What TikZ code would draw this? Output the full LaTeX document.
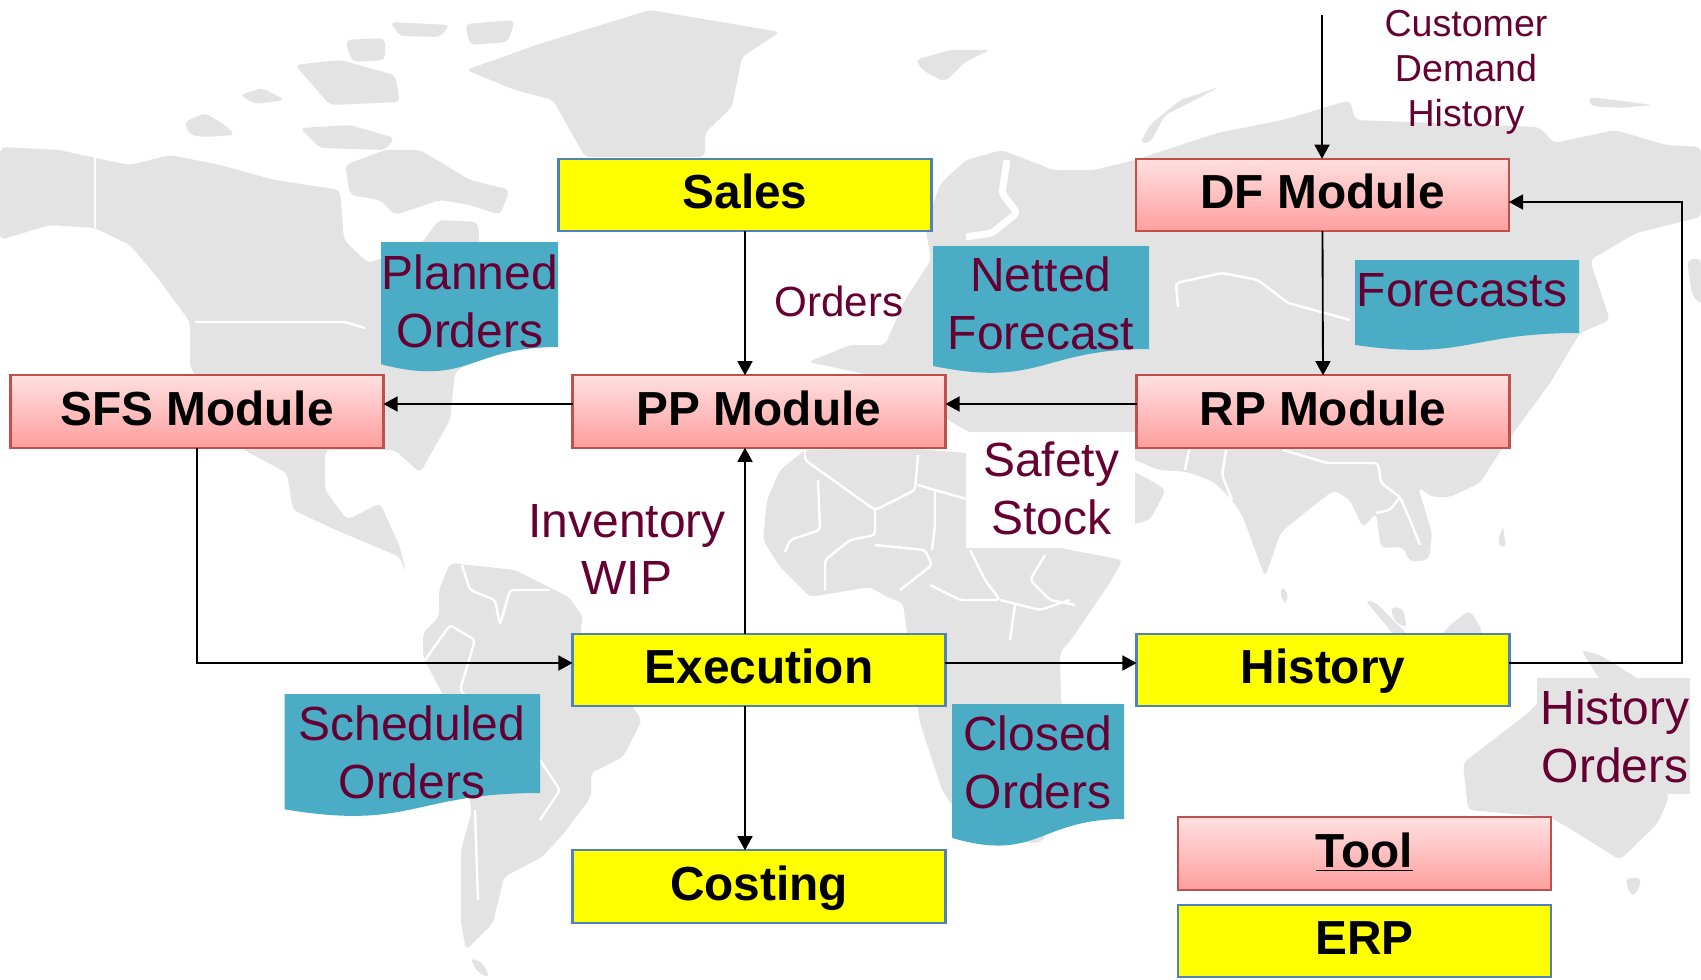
\documentclass[tikz,border=0pt]{standalone}
\usepackage{fontspec}
\setmainfont{Liberation Sans}
\usetikzlibrary{arrows.meta}

\definecolor{labelred}{HTML}{660033}
\definecolor{notefill}{HTML}{4BACC6}
\definecolor{mapgray}{HTML}{E3E3E3}
\definecolor{erpline}{HTML}{4F81BD}
\definecolor{erpfill}{HTML}{FFFF00}
\definecolor{toolline}{HTML}{C0504D}
\definecolor{tooltop}{HTML}{FFE0E0}
\definecolor{toolbottom}{HTML}{FF9E9E}

\tikzset{
	x=0.02cm, y=-0.02cm,
	>={Triangle[length=8pt,width=8.5pt]},
	flowline/.style={line width=1.05pt},
	land/.style={fill=mapgray, rounded corners=3pt},
	border/.style={draw=white, line width=1.4pt, line join=round, rounded corners=2pt},
	erpbox/.style={draw=erpline, line width=1.25pt, fill=erpfill, minimum width=7.46cm, minimum height=1.45cm,
		inner sep=0pt, outer sep=0pt, font=\fontsize{27.2}{30}\selectfont\bfseries, text height=20pt, text depth=4.2pt},
	toolbox/.style={erpbox, draw=toolline, top color=tooltop, bottom color=toolbottom},
	notelabel/.style={text=labelred, align=center, inner sep=0pt, font=\fontsize{27.3}{33}\selectfont},
	smalllabel/.style={notelabel, font=\fontsize{21.4}{25.6}\selectfont}
}

% flowchart document: left, top, right, bottom of the right edge
\newcommand{\docnote}[4]{
	\fill[notefill] (#1,#2) -- (#3,#2) -- (#3,#4)
		.. controls ({(#1+#3)/2},#4) and ({(#1+#3)/2},{#2+(#4-#2)*1.381}) .. (#1,{#2+(#4-#2)*1.1645}) -- cycle;
}

\begin{document}
\begin{tikzpicture}
	\useasboundingbox (0,0) rectangle (1701,980);

	% World map
	\fill[land] (0,147) -- (60,150) -- (95,158) -- (130,165) -- (170,155) -- (220,165) -- (275,180) -- (340,190)
		-- (344,240) -- (368,263) -- (420,245) -- (439,220) -- (478,222) -- (480,250) -- (530,290) -- (558,320)
		-- (500,345) -- (455,372) -- (450,420) -- (420,473) -- (395,450) -- (325,450) -- (325,490) -- (347,520)
		-- (380,503) -- (400,547) -- (406,573) -- (400,557) -- (336,530) -- (293,510) -- (287,473) -- (244,450)
		-- (190,367) -- (190,322) -- (157,277) -- (130,245) -- (95,228) -- (50,225) -- (0,240) -- cycle;
	\fill[land] (184,122) -- (205,113) -- (225,125) -- (235,135) -- (205,137) -- (190,135) -- cycle;
	\fill[land] (240,95) -- (262,88) -- (285,100) -- (255,104) -- cycle;
	\fill[land] (300,128) -- (350,125) -- (395,138) -- (385,150) -- (320,148) -- cycle;
	\fill[land] (295,65) -- (340,60) -- (395,75) -- (400,102) -- (330,105) -- cycle;
	\fill[land] (345,40) -- (385,38) -- (385,60) -- (352,62) -- cycle;
	\fill[land] (390,22) -- (450,25) -- (440,37) -- (400,36) -- cycle;
	\fill[land] (465,24) -- (515,20) -- (508,42) -- (470,45) -- cycle;
	\fill[land] (345,165) -- (385,150) -- (420,150) -- (470,180) -- (510,190) -- (500,215) -- (470,205)
		-- (440,200) -- (395,215) -- (380,200) -- (350,195) -- cycle;
	% Greenland
	\fill[land] (466,70) -- (542,43) -- (650,10) -- (780,32) -- (742,57) -- (732,107) -- (705,133) -- (705,157)
		-- (585,157) -- (553,100) -- (515,90) -- cycle;
	% South America
	\fill[land] (450,563) -- (515,570) -- (569,597) -- (583,617) -- (580,633) -- (642,720) -- (623,757)
		-- (591,773) -- (591,797) -- (564,833) -- (542,857) -- (504,877) -- (493,923) -- (466,950) -- (461,923)
		-- (461,850) -- (472,810) -- (444,697) -- (423,657) -- (423,633) -- (439,617) -- (439,590) -- cycle;
	\fill[land] (470,958) -- (482,962) -- (490,978) -- (477,972) -- cycle;
	% Africa
	\fill[land] (805,450) -- (903,448) -- (967,453) -- (1000,470) -- (1030,520) -- (1060,548) -- (1123,560)
		-- (1107,587) -- (1073,637) -- (1060,653) -- (1061,703) -- (1100,760) -- (1040,843) -- (975,840)
		-- (942,790) -- (920,723) -- (907,633) -- (903,603) -- (887,597) -- (870,587) -- (810,597) -- (780,567)
		-- (763,540) -- (767,500) -- (780,470) -- cycle;
	% Eurasia
	\fill[land] (808,362) -- (850,345) -- (885,345) -- (905,300) -- (931,260) -- (925,225) -- (941,183) -- (966,160)
		-- (1002,150) -- (1053,170) -- (1094,170) -- (1135,160) -- (1217,133) -- (1283,120) -- (1350,100) -- (1355,120)
		-- (1436,123) -- (1539,127) -- (1554,143) -- (1615,130) -- (1666,145) -- (1701,147) -- (1701,217) -- (1636,233)
		-- (1590,260) -- (1610,320) -- (1580,333) -- (1550,383) -- (1501,450) -- (1480,483) -- (1450,497) -- (1432,497)
		-- (1418,487) -- (1432,533) -- (1429,560) -- (1410,562) -- (1403,547) -- (1381,548) -- (1376,513) -- (1363,528)
		-- (1350,500) -- (1334,490) -- (1312,507) -- (1281,532) -- (1265,577) -- (1243,517) -- (1232,500) -- (1214,482)
		-- (1188,472) -- (1159,470) -- (1135,460) -- (1000,450) -- (870,375) -- cycle;
	\fill[land] (1130,470) -- (1150,480) -- (1166,490) -- (1150,520) -- (1130,525) -- cycle;
	\fill[land] (1687,260) -- (1701,258) -- (1701,305) -- (1692,295) -- cycle;
	\fill[land] (915,60) -- (950,50) -- (990,50) -- (965,62) -- (945,82) -- (925,72) -- cycle;
	\fill[land] (1219,87) -- (1180,100) -- (1150,125) -- (1140,143) -- (1150,143) -- (1165,115) -- (1195,100) -- cycle;
	\fill[land] (1588,97) -- (1615,100) -- (1653,105) -- (1620,108) -- (1590,106) -- cycle;
	% Islands of Asia
	\fill[land] (1365,600) -- (1375,602) -- (1408,635) -- (1395,636) -- cycle;
	\fill[land] (1390,607) -- (1403,608) -- (1407,628) -- (1395,622) -- cycle;
	\fill[land] (1437,640) -- (1450,625) -- (1470,610) -- (1482,630) -- (1478,650) -- (1440,650) -- cycle;
	\fill[land] (1503,525) -- (1506,548) -- (1497,545) -- cycle;
	\fill[land] (1581,650) -- (1600,655) -- (1640,680) -- (1645,690) -- (1600,680) -- cycle;
	\fill[land] (1280,587) -- (1287,590) -- (1288,602) -- (1282,602) -- cycle;
	% Australia
	\fill[land] (1463,763) -- (1528,713) -- (1560,680) -- (1620,690) -- (1669,797) -- (1658,823) -- (1620,860)
		-- (1577,833) -- (1550,817) -- (1468,810) -- cycle;
	\fill[land] (1625,878) -- (1642,878) -- (1636,895) -- (1630,895) -- cycle;

	% Coasts and frontiers left white
	\draw[border] (95,157) -- (95,228);
	\draw[border] (195,322) -- (345,322) -- (365,328);
	\draw[border, line width=4pt] (1007,160) -- (1002,193) -- (1017,213) -- (992,233) -- (966,237);
	\draw[border] (1178,307) -- (1176,283) -- (1222,273) -- (1258,280) -- (1288,303) -- (1314,310) -- (1350,320);
	\draw[border] (805,450) -- (805,460) -- (875,510) -- (915,490) -- (918,455);
	\draw[border] (918,485) -- (935,490) -- (970,500);
	\draw[border] (875,510) -- (875,535) -- (850,540) -- (825,560) -- (825,590);
	\draw[border] (818,480) -- (820,530) -- (790,540) -- (785,552);
	\draw[border] (875,545) -- (925,550) -- (932,565) -- (900,590);
	\draw[border] (932,550) -- (935,525) -- (935,490);
	\draw[border] (970,550) -- (985,580) -- (1000,600) -- (960,600) -- (930,585);
	\draw[border] (1045,555) -- (1030,580) -- (1040,590) -- (1050,600) -- (1075,605);
	\draw[border] (1000,600) -- (1020,605) -- (1040,610) -- (1070,600);
	\draw[border] (1015,605) -- (1010,640);
	\draw[border] (1283,450) -- (1327,463) -- (1378,463) -- (1381,483) -- (1400,497) -- (1410,520) -- (1420,545);
	\draw[border] (1226,450) -- (1222,475) -- (1232,500);
	\draw[border] (1190,445) -- (1185,470);
	\draw[border] (1376,513) -- (1390,510) -- (1400,497);
	\draw[border] (462,565) -- (470,590) -- (495,600) -- (500,625) -- (510,590) -- (550,590);
	\draw[border] (425,660) -- (450,625) -- (475,640) -- (460,690) -- (490,720);
	\draw[border] (475,810) -- (478,900);
	\draw[border] (540,760) -- (560,790) -- (540,820);

	% Documents
	\docnote{381}{242}{558}{347}
	\docnote{933}{246}{1149}{349}
	\docnote{1355}{260}{1579}{333}
	\docnote{284.5}{694}{540}{793}
	\docnote{952}{704}{1124}{819}

	\fill[white] (966,432) rectangle (1135,548);
	\fill[mapgray] (1537,678) rectangle (1690,794);

	% Labels
	\node[notelabel] (planned) at (470,301) {Planned\\Orders};
	\node[notelabel] (netted) at (1041,303.5) {Netted\\Forecast};
	\node[notelabel] (forecasts) at (1462,290) {Forecasts};
	\node[notelabel] (scheduled) at (412,752) {Scheduled\\Orders};
	\node[notelabel] (closed) at (1038,762) {Closed\\Orders};
	\node[notelabel] (safety) at (1051,488.5) {Safety\\Stock};
	\node[notelabel] (inventory) at (627,549.5) {Inventory\\WIP};
	\node[notelabel] (histord) at (1615,736) {History\\Orders};
	\node[notelabel, font=\fontsize{24}{30}\selectfont] (orders) at (839,301) {Orders};
	\node[smalllabel] (demand) at (1466,72) {Customer\\Demand\\History};

	% Boxes
	\node[erpbox] (sales) at (745,195) {Sales};
	\node[toolbox] (df) at (1322.5,195) {DF Module};
	\node[toolbox] (sfs) at (197,411.5) {SFS Module};
	\node[toolbox] (pp) at (759,411.5) {PP Module};
	\node[toolbox] (rp) at (1323,411.5) {RP Module};
	\node[erpbox] (exec) at (759,670) {Execution};
	\node[erpbox] (history) at (1323,670) {History};
	\node[erpbox] (costing) at (759,886.5) {Costing};
	\node[toolbox] (tool) at (1364.5,853.5) {\underline{Tool}};
	\node[erpbox] (erp) at (1364.5,941) {ERP};

	% Connectors
	\coordinate (source) at (1322,15);
	\coordinate (upper) at (0,404);
	\coordinate (lower) at (0,663);
	\coordinate (back) at (1682,202);

	\draw[->,flowline] (source) -- (source |- df.north);
	\draw[->,flowline] (df.south) -- (rp.north);
	\draw[->,flowline] (sales.south) -- (sales.south |- pp.north);
	\draw[->,flowline] (rp.west |- upper) -- (pp.east |- upper);
	\draw[->,flowline] (pp.west |- upper) -- (sfs.east |- upper);
	\draw[->,flowline] (sfs.south) -- (sfs.south |- lower) -- (exec.west |- lower);
	\draw[->,flowline] (sales.south |- exec.north) -- (sales.south |- pp.south);
	\draw[->,flowline] (sales.south |- exec.south) -- (sales.south |- costing.north);
	\draw[->,flowline] (exec.east |- lower) -- (history.west |- lower);
	\draw[->,flowline] (history.east |- lower) -- (back |- lower) -- (back) -- (df.east |- back);
\end{tikzpicture}
\end{document}
